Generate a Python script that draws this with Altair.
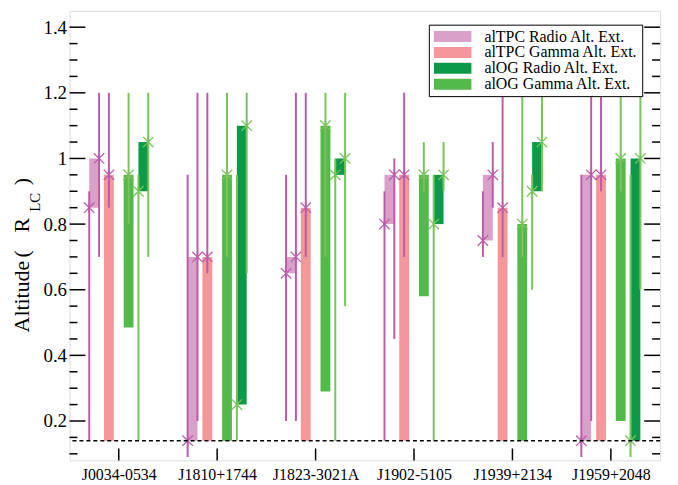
import json
import altair as alt
import pandas as pd

# ---------------- data ----------------
pulsars = ["J0034-0534", "J1810+1744", "J1823-3021A", "J1902-5105", "J1939+2134", "J1959+2048"]
series = ["alTPC Radio Alt. Ext.", "alTPC Gamma Alt. Ext.", "alOG Radio Alt. Ext.", "alOG Gamma Alt. Ext."]
bar_colors = ["#d9a0ca", "#f5979a", "#0c9a48", "#53b94a"]

# altitude extents (bars)
tpc_radio_lo = [0.85, 0.14, 0.65, 0.80, 0.75, 0.14]
tpc_radio_hi = [1.00, 0.70, 0.70, 0.95, 0.95, 0.95]
tpc_gamma_lo = [0.14, 0.14, 0.14, 0.14, 0.14, 0.14]
tpc_gamma_hi = [0.95, 0.70, 0.85, 0.95, 0.85, 0.95]
og_radio_lo = [0.90, 0.25, 0.95, 0.80, 0.90, 0.14]
og_radio_hi = [1.05, 1.10, 1.00, 0.95, 1.05, 1.00]
og_gamma_lo = [0.485, 0.14, 0.29, 0.58, 0.14, 0.20]
og_gamma_hi = [0.95, 0.95, 1.10, 0.95, 0.80, 1.00]

# error ranges
err_tpc_rlo_min = [0.14, 0.09, 0.20, 0.14, 0.70, 0.09]
err_tpc_rlo_max = [0.90, 0.95, 0.95, 0.90, 0.90, 0.95]
err_tpc_rhi_min = [0.70, 0.20, 0.20, 0.45, 0.85, 0.20]
err_tpc_rhi_max = [1.20, 1.20, 1.20, 1.00, 1.05, 1.20]
err_tpc_g_min = [0.85, 0.65, 0.70, 0.70, 0.70, 0.90]
err_tpc_g_max = [1.20, 1.20, 1.20, 1.20, 1.20, 1.20]
err_og_g_min = [0.80, 0.70, 0.70, 0.90, 0.70, 0.90]
err_og_g_max = [1.20, 1.20, 1.20, 1.05, 1.20, 1.20]
err_og_rlo_min = [0.14, 0.14, 0.14, 0.14, 0.60, 0.09]
err_og_rlo_max = [0.95, 0.95, 1.00, 0.95, 0.95, 0.95]
err_og_rhi_min = [0.70, 0.65, 0.55, 0.90, 0.90, 0.60]
err_og_rhi_max = [1.20, 1.20, 1.20, 1.05, 1.20, 1.20]

dash_level = [0.14]
y_major = [0.2, 0.4, 0.6, 0.8, 1.0, 1.2, 1.4]
y_minor = [0.10, 0.15, 0.25, 0.30, 0.35, 0.45, 0.50, 0.55, 0.65, 0.70, 0.75,
           0.85, 0.90, 0.95, 1.05, 1.10, 1.15, 1.25, 1.30, 1.35]
x_ticks = [1, 2, 3, 4, 5, 6]

# ---------------- layout constants ----------------
W, H = 595, 453
FONT = "Liberation Serif"
PURPLE = "#bb5cab"
LGREEN = "#79c45a"
STAR = "M-1,-1L1,1M-1,1L1,-1M0,-1L0,1"

bar_off = {series[0]: -0.25, series[1]: -0.10, series[2]: 0.25, series[3]: 0.10}
half = 0.05

rows = []
for i, p in enumerate(pulsars):
    los = [tpc_radio_lo[i], tpc_gamma_lo[i], og_radio_lo[i], og_gamma_lo[i]]
    his = [tpc_radio_hi[i], tpc_gamma_hi[i], og_radio_hi[i], og_gamma_hi[i]]
    for s, lo, hi in zip(series, los, his):
        c = x_ticks[i] + bar_off[s]
        rows.append(dict(pulsar=p, series=s, x=c - half, x2=c + half, lo=lo, hi=hi))
bars_df = pd.DataFrame(rows)

err_specs = [
    ("TPC", -0.30, err_tpc_rlo_min, err_tpc_rlo_max, tpc_radio_lo),
    ("TPC", -0.20, err_tpc_rhi_min, err_tpc_rhi_max, tpc_radio_hi),
    ("TPC", -0.10, err_tpc_g_min, err_tpc_g_max, tpc_gamma_hi),
    ("OG", 0.10, err_og_g_min, err_og_g_max, og_gamma_hi),
    ("OG", 0.20, err_og_rlo_min, err_og_rlo_max, og_radio_lo),
    ("OG", 0.30, err_og_rhi_min, err_og_rhi_max, og_radio_hi),
]
erows = []
for model, off, mins, maxs, stars in err_specs:
    for i, p in enumerate(pulsars):
        erows.append(dict(model=model, pulsar=p, x=x_ticks[i] + off,
                          lo=mins[i], hi=maxs[i], star=stars[i]))
err_df = pd.DataFrame(erows)

xs = alt.Scale(domain=[0.5, 6.5], nice=False, zero=False)
ys = alt.Scale(domain=[0.08, 1.45], nice=False, zero=False)

label_arr = json.dumps(pulsars)
x_axis = alt.Axis(values=x_ticks, labelExpr=f"{label_arr}[datum.value - 1]", title=None,
                  grid=False, ticks=False, domain=False, labelFont=FONT, labelFontSize=16,
                  labelColor="black", labelPadding=6)
y_axis = alt.Axis(values=y_major, format="~g", title=None, grid=False, ticks=False,
                  domain=False, labelFont=FONT, labelFontSize=19, labelColor="black",
                  labelPadding=3)

bars = alt.Chart(bars_df).mark_rect().encode(
    x=alt.X("x:Q", scale=xs, axis=x_axis),
    x2="x2:Q",
    y=alt.Y("lo:Q", scale=ys, axis=y_axis),
    y2="hi:Q",
    color=alt.Color("series:N", scale=alt.Scale(domain=series, range=bar_colors),
                    sort=series,
                    legend=alt.Legend(title=None, orient="none", legendX=362, legendY=14,
                                      symbolType="M-2.7,-0.79H2.7V0.79H-2.7Z", symbolSize=196,
                                      symbolOffset=12, symbolStrokeWidth=0,
                                      labelFont=FONT, labelFontSize=16,
                                      labelColor="black", labelOffset=24, rowPadding=-2.5,
                                      padding=4, strokeColor="black", fillColor="white",
                                      labelLimit=400)),
)

def err_layer(model, color):
    d = err_df[err_df.model == model]
    rules = alt.Chart(d).mark_rule(color=color, strokeWidth=2).encode(
        x=alt.X("x:Q", scale=xs), y=alt.Y("lo:Q", scale=ys), y2="hi:Q")
    stars = alt.Chart(d).mark_point(shape=STAR, size=110, filled=False, color=color,
                                    strokeWidth=1.3, opacity=1).encode(
        x=alt.X("x:Q", scale=xs), y=alt.Y("star:Q", scale=ys))
    return rules, stars

tpc_rules, tpc_stars = err_layer("TPC", PURPLE)
og_rules, og_stars = err_layer("OG", LGREEN)

dash = alt.Chart(pd.DataFrame({"y": dash_level})).mark_rule(
    color="black", strokeWidth=1.6, strokeDash=[4, 3]).encode(y=alt.Y("y:Q", scale=ys))

maj_df = pd.DataFrame({"y": y_major})
min_df = pd.DataFrame({"y": y_minor})
def yticks(df, length):
    left = alt.Chart(df).mark_rule(color="black", strokeWidth=1.5).encode(
        y=alt.Y("y:Q", scale=ys), x=alt.value(0), x2=alt.value(length))
    right = alt.Chart(df).mark_rule(color="black", strokeWidth=1.5).encode(
        y=alt.Y("y:Q", scale=ys), x=alt.value(W), x2=alt.value(W - length))
    return left, right

lmaj, rmaj = yticks(maj_df, 16)
lmin, rmin = yticks(min_df, 8)
xt = alt.Chart(pd.DataFrame({"x": x_ticks})).mark_rule(color="black", strokeWidth=1.5).encode(
    x=alt.X("x:Q", scale=xs), y=alt.value(H), y2=alt.value(H - 12))

# y-axis title pieces: "Altitude ( R" + subscript "LC" + " )"
title_main = ["Altitude", "(", "R", ")"]
title_sub = ["LC"]
title_df = pd.DataFrame({"t": title_main, "yp": [288, 245, 216, 172]})
tmain = alt.Chart(title_df).mark_text(
    angle=270, align="center", baseline="middle", font=FONT, fontSize=22, color="black").encode(
    text="t:N", x=alt.value(-48), y=alt.Y("yp:Q", scale=None))
tsub = alt.Chart(pd.DataFrame({"t": title_sub})).mark_text(
    angle=270, align="center", baseline="middle", font=FONT, fontSize=15, color="black").encode(
    text="t:N", x=alt.value(-35), y=alt.value(193))

chart = alt.layer(
    bars, tpc_rules, og_rules, tpc_stars, og_stars, dash,
    lmaj, rmaj, lmin, rmin, xt, tmain, tsub,
).properties(
    width=W, height=H, autosize="none",
    padding={"left": 62, "top": 1, "right": 10, "bottom": 22},
).configure_view(stroke="black", strokeWidth=2).configure(background="white")

chart.save("out.html", embed_options={"renderer": "svg", "actions": False})
